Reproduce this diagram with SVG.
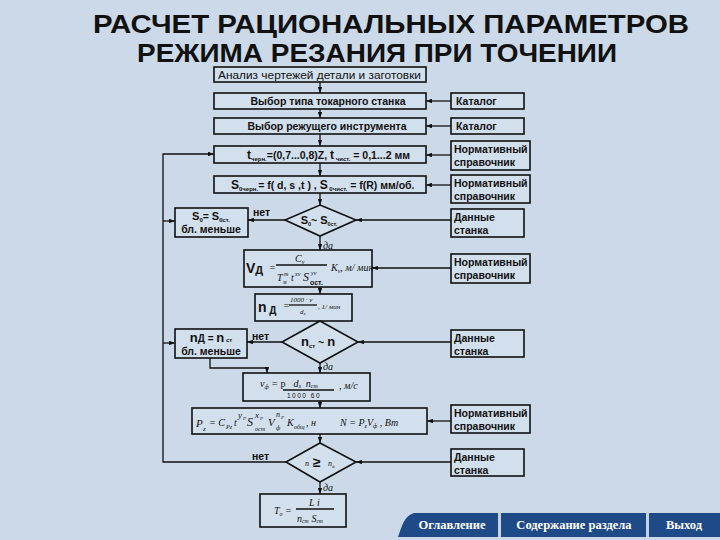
<svg xmlns="http://www.w3.org/2000/svg" width="720" height="540" viewBox="0 0 720 540">
<defs>
<marker id="ah" viewBox="0 0 8 6" refX="8" refY="3" markerWidth="6" markerHeight="4.5" orient="auto" markerUnits="userSpaceOnUse">
<path d="M0,0 L8,3 L0,6 Z" fill="#111"/>
</marker>
<style>
.bx{fill:#d2dfec;stroke:#111;stroke-width:1.6}
.ln{stroke:#111;stroke-width:1.3;fill:none}
.ar{stroke:#111;stroke-width:1.3;fill:none;marker-end:url(#ah)}
.t{font-family:"Liberation Sans",Arial,sans-serif;font-size:10.5px;font-weight:bold;fill:#111}
.c{text-anchor:middle}
.i{font-family:"Liberation Serif","Times New Roman",serif;font-style:italic;font-size:10px;fill:#111}
.ttl{font-family:"Liberation Sans",Arial,sans-serif;font-weight:bold;font-size:26px;fill:#111;text-anchor:middle}
.btn{font-family:"Liberation Serif","Times New Roman",serif;font-weight:bold;font-size:12.5px;fill:#fff;text-anchor:middle}
</style>
</defs>
<rect width="720" height="540" fill="#cbd9e8"/>
<g id="title">
<text class="ttl" x="391" y="33" textLength="596" lengthAdjust="spacingAndGlyphs">РАСЧЕТ РАЦИОНАЛЬНЫХ ПАРАМЕТРОВ</text>
<text class="ttl" x="377" y="62" textLength="480" lengthAdjust="spacingAndGlyphs">РЕЖИМА РЕЗАНИЯ ПРИ ТОЧЕНИИ</text>
</g>
<g id="connectors">
<path class="ar" d="M320,82 V93"/>
<path class="ar" d="M320,109 V118"/>
<path class="ar" d="M320,134 V146"/>
<path class="ar" d="M320,163 V176"/>
<path class="ar" d="M320,193 V205"/>
<path class="ar" d="M451,101 H426"/>
<path class="ar" d="M451,126 H426"/>
<path class="ar" d="M451,155 H426"/>
<path class="ar" d="M451,185 H426"/>
<path class="ar" d="M285,220 H248"/>
<path class="ar" d="M451,220 H356"/>
<path class="ar" d="M163,221 H175"/>
<path class="ar" d="M320,236 V250"/>
<path class="ar" d="M451,268 H372"/>
<path class="ar" d="M320,287 V294"/>
<path class="ar" d="M282,342 H247"/>
<path class="ar" d="M451,342 H358"/>
<path class="ar" d="M163,343 H175"/>
<path class="ar" d="M210,358 V368 H267 V373"/>
<path class="ar" d="M320,363 V373"/>
<path class="ar" d="M320,401 V408"/>
<path class="ar" d="M451,421 H427"/>
<path class="ar" d="M320,434 V443"/>
<path class="ar" d="M286,462 H163 V154 H214"/>
<path class="ar" d="M451,462 H356"/>
<path class="ar" d="M320,482 V494"/>
<text class="t" x="253" y="216">нет</text>
<text class="t" x="252" y="340">нет</text>
<text class="t" x="252" y="460">нет</text>
<text class="i" x="323" y="249">да</text>
<text class="i" x="323" y="370">да</text>
<text class="i" x="323" y="491">да</text>
</g>
<g id="n1"><rect class="bx" x="214" y="67" width="212" height="15"/><text class="t" x="218" y="78.5" style="font-weight:normal" textLength="203" lengthAdjust="spacingAndGlyphs">Анализ чертежей детали и заготовки</text></g>
<g id="n2"><rect class="bx" x="214" y="93" width="212" height="16"/><text class="t c" x="328" y="105">Выбор типа токарного станка</text></g>
<g id="n3"><rect class="bx" x="214" y="118" width="212" height="16"/><text class="t c" x="327" y="130">Выбор режущего инструмента</text></g>
<g id="n4"><rect class="bx" x="214" y="146" width="212" height="17"/><text class="t" x="247" y="159"><tspan font-size="12">t</tspan><tspan font-size="6" dy="2">черн.</tspan><tspan dy="-2">=(0,7...0,8)Z, </tspan><tspan font-size="12">t</tspan><tspan font-size="6" dy="2"> чист.</tspan><tspan dy="-2"> = 0,1...2 мм</tspan></text></g>
<g id="n5"><rect class="bx" x="214" y="176" width="212" height="17"/><text class="t" x="231" y="189"><tspan font-size="12">S</tspan><tspan font-size="6" dy="2">0черн.</tspan><tspan dy="-2">= f( d, s ,t ) , </tspan><tspan font-size="12">S</tspan><tspan font-size="6" dy="2"> 0чист.</tspan><tspan dy="-2"> = f(R) мм/об.</tspan></text></g>
<g id="r1"><rect class="bx" x="451" y="93" width="73" height="16"/><text class="t" x="456" y="105">Каталог</text></g>
<g id="r2"><rect class="bx" x="451" y="118" width="73" height="16"/><text class="t" x="456" y="130">Каталог</text></g>
<g id="r3"><rect class="bx" x="451" y="141" width="79" height="29"/><text class="t" x="454" y="153">Нормативный</text><text class="t" x="454" y="166">справочник</text></g>
<g id="r4"><rect class="bx" x="451" y="175" width="79" height="28"/><text class="t" x="454" y="187">Нормативный</text><text class="t" x="454" y="200">справочник</text></g>
<g id="d1"><polygon class="bx" points="320,205 356,220 320,236 285,220"/><text class="t c" x="319" y="224"><tspan font-size="11">S</tspan><tspan font-size="5.5" dy="2">0</tspan><tspan dy="-2">~ </tspan><tspan font-size="11">S</tspan><tspan font-size="5.5" dy="2">0ст.</tspan></text></g>
<g id="l1"><rect class="bx" x="175" y="208" width="73" height="29"/><text class="t c" x="211" y="220"><tspan font-size="11">S</tspan><tspan font-size="6" dy="2">0</tspan><tspan dy="-2">= </tspan><tspan font-size="11">S</tspan><tspan font-size="6" dy="2">0ст.</tspan></text><text class="t c" x="211" y="233">бл. меньше</text></g>
<g id="r5"><rect class="bx" x="451" y="209" width="73" height="28"/><text class="t" x="454" y="221">Данные</text><text class="t" x="454" y="234">станка</text></g>
<g id="n6"><rect class="bx" x="244" y="250" width="128" height="37"/>
<text class="t" x="246" y="273" style="font-size:14px">V<tspan font-size="11" dy="1">Д</tspan></text>
<text class="i" x="269" y="271">=</text>
<text class="i" x="295" y="262">C<tspan font-size="6" dy="2">v</tspan></text>
<line class="ln" x1="276" y1="265" x2="327" y2="265" stroke-width="0.8"/>
<text class="i" x="277" y="281">T</text>
<text class="i" x="283" y="284" style="font-size:5.5px">м</text>
<text class="i" x="284" y="276" style="font-size:6px">m</text>
<text class="i" x="291" y="281">t</text>
<text class="i" x="295" y="276" style="font-size:6px">xv</text>
<text class="i" x="303" y="281" style="font-size:12px">S</text>
<text class="i" x="311" y="275" style="font-size:6px">yv</text>
<text class="t" x="310" y="285" style="font-size:7px">ост.</text>
<text class="i" x="331" y="271">K<tspan font-size="6" dy="2">v</tspan><tspan dy="-2">, м/ мин</tspan></text></g>
<g id="r6"><rect class="bx" x="451" y="254" width="79" height="29"/><text class="t" x="454" y="266">Нормативный</text><text class="t" x="454" y="279">справочник</text></g>
<g id="n7"><rect class="bx" x="255" y="294" width="97" height="27"/>
<text class="t" x="258" y="312" style="font-size:14px">n<tspan font-size="10" dy="2"> Д</tspan></text>
<text class="i" x="283" y="309">=</text>
<text class="i" x="290" y="302" style="font-size:7px">1000 · v</text>
<line class="ln" x1="289" y1="305" x2="317" y2="305" stroke-width="0.7"/>
<text class="i" x="300" y="314" style="font-size:7px">d<tspan font-size="5" dy="1">з</tspan></text>
<text class="i" x="318" y="309" style="font-size:7px">, 1/ мин</text></g>
<g id="d2"><polygon class="bx" points="320,321 358,342 320,363 282,342"/><text class="t c" x="318" y="346"><tspan font-size="13">n</tspan><tspan font-size="6" dy="2">ст</tspan><tspan dy="-2"> ~ </tspan><tspan font-size="13">n</tspan></text></g>
<g id="l2"><rect class="bx" x="175" y="329" width="72" height="29"/><text class="t c" x="211" y="342"><tspan font-size="13">n</tspan><tspan font-size="10">Д = </tspan><tspan font-size="13">n</tspan><tspan font-size="6"> ст</tspan></text><text class="t c" x="211" y="355">бл. меньше</text></g>
<g id="r7"><rect class="bx" x="451" y="330" width="73" height="27"/><text class="t" x="454" y="342">Данные</text><text class="t" x="454" y="355">станка</text></g>
<g id="n8"><rect class="bx" x="243" y="373" width="127" height="28"/>
<text class="i" x="260" y="387">v<tspan font-size="6" dy="2">ф</tspan><tspan dy="-2"> = </tspan><tspan font-style="normal">p</tspan><tspan dx="8">d</tspan><tspan font-size="6" dy="1">з</tspan><tspan dy="-1" dx="5">n</tspan><tspan font-size="6" dy="1">ст</tspan></text>
<line class="ln" x1="283" y1="390" x2="334" y2="390" stroke-width="0.7"/>
<text class="t" x="287" y="398" style="font-size:6.5px;font-weight:normal" letter-spacing="1.5">1000  60</text>
<text class="i" x="339" y="389">, м/с</text></g>
<g id="n9"><rect class="bx" x="192" y="408" width="235" height="26"/>
<text class="i" x="196" y="427" style="font-size:11px">P</text>
<text class="i" x="203" y="431" style="font-size:7px">z</text>
<text class="i" x="209" y="426">= C</text>
<text class="i" x="226" y="429" style="font-size:6px">Pz</text>
<text class="i" x="234" y="426">t</text>
<text class="i" x="238" y="418" style="font-size:9px">y</text>
<text class="i" x="243" y="420" style="font-size:5px">P</text>
<text class="i" x="247" y="426" style="font-size:12px">S</text>
<text class="i" x="255" y="418" style="font-size:9px">x</text>
<text class="i" x="260" y="420" style="font-size:5px">P</text>
<text class="i" x="255" y="431" style="font-size:6px">ост</text>
<text class="i" x="268" y="426" style="font-size:11px">V</text>
<text class="i" x="276" y="417" style="font-size:8px">n</text>
<text class="i" x="281" y="419" style="font-size:5px">P</text>
<text class="i" x="276" y="430" style="font-size:6px">ф</text>
<text class="i" x="287" y="426">K</text>
<text class="i" x="294" y="429" style="font-size:6px">общ</text>
<text class="i" x="306" y="426">, н</text>
<text class="i" x="340" y="426">N = P<tspan font-size="6" dy="2">z</tspan><tspan dy="-2">V</tspan><tspan font-size="6" dy="2">ф</tspan><tspan dy="-2">   , Вт</tspan></text></g>
<g id="r8"><rect class="bx" x="451" y="405" width="79" height="28"/><text class="t" x="454" y="417">Нормативный</text><text class="t" x="454" y="430">справочник</text></g>
<g id="d3"><polygon class="bx" points="320,443 356,462 320,482 286,462"/><text class="i" x="305" y="466" style="font-size:8px">n</text><text class="t" x="313" y="467" style="font-size:14px">≥</text><text class="i" x="328" y="466" style="font-size:8px">n<tspan font-size="5" dy="2">д</tspan></text></g>
<g id="r9"><rect class="bx" x="451" y="449" width="73" height="27"/><text class="t" x="454" y="461">Данные</text><text class="t" x="454" y="474">станка</text></g>
<g id="n10"><rect class="bx" x="260" y="494" width="86" height="33"/>
<text class="i" x="274" y="514">T<tspan font-size="6" dy="2">o</tspan><tspan dy="-2"> =</tspan></text>
<text class="i" x="309" y="506">L  i</text>
<line class="ln" x1="296" y1="509" x2="334" y2="509" stroke-width="0.7"/>
<text class="i" x="297" y="522">n<tspan font-size="5.5" dy="1">ст</tspan><tspan dy="-1" dx="3">S</tspan><tspan font-size="5.5" dy="1">ст</tspan></text></g>
<g id="navbar">
<path d="M398,537 C402,526 404,516 414,513 L720,513 L720,537 Z" fill="#1f4a88"/>
<rect x="498" y="513" width="3" height="24" fill="#c9d2de"/>
<rect x="646" y="513" width="3" height="24" fill="#c9d2de"/>
<text class="btn" x="452" y="529">Оглавление</text>
<text class="btn" x="574" y="529">Содержание раздела</text>
<text class="btn" x="684" y="529">Выход</text>
</g>
</svg>
